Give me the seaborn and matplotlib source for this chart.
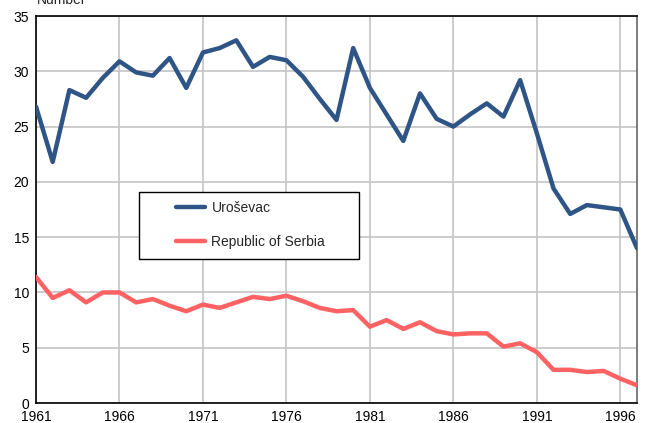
import pandas as pd
import matplotlib
matplotlib.use('Agg')
import matplotlib.pyplot as plt
from matplotlib.patches import Rectangle
import seaborn as sns

years = list(range(1961, 1998))

urosevac = [26.8, 21.8, 28.3, 27.6, 29.4, 30.9, 29.9, 29.6, 31.2, 28.5,
            31.7, 32.1, 32.8, 30.4, 31.3, 31.0, 29.5, 27.5, 25.6, 32.1,
            28.5, 26.1, 23.7, 28.0, 25.7, 25.0, 26.1, 27.1, 25.9, 29.2,
            24.4, 19.4, 17.1, 17.9, 17.7, 17.5, 14.0]

serbia = [11.4, 9.5, 10.2, 9.1, 10.0, 10.0, 9.1, 9.4, 8.8, 8.3,
          8.9, 8.6, 9.1, 9.6, 9.4, 9.7, 9.2, 8.6, 8.3, 8.4,
          6.9, 7.5, 6.7, 7.3, 6.5, 6.2, 6.3, 6.3, 5.1, 5.4,
          4.6, 3.0, 3.0, 2.8, 2.9, 2.2, 1.6]

series_names = ['Uroševac', 'Republic of Serbia']
colors = ['#2F5587', '#FF6262']
tick_years = [1961, 1966, 1971, 1976, 1981, 1986, 1991, 1996]
y_ticks = [0, 5, 10, 15, 20, 25, 30, 35]

df = pd.DataFrame({
    'Year': years * 2,
    'Value': urosevac + serbia,
    'Series': [series_names[0]] * len(years) + [series_names[1]] * len(years),
})

sns.set_style('white')
plt.rcParams['font.family'] = ['Liberation Sans', 'DejaVu Sans']

fig = plt.figure(figsize=(6.48, 4.23), dpi=100)
ax = fig.add_axes([36 / 648, 20 / 423, 601 / 648, 387 / 423])

sns.lineplot(data=df, x='Year', y='Value', hue='Series', palette=colors,
             linewidth=3.2, ax=ax, zorder=3)

ax.set_xlim(1961, 1997)
ax.set_ylim(0, 35)
ax.set_xticks(tick_years)
ax.set_yticks(y_ticks)
ax.grid(True, color='#C4C4C4', linewidth=1.2)
ax.set_axisbelow(True)
ax.set_xlabel('')
ax.set_ylabel('')
ax.tick_params(axis='both', length=0, labelsize=10, colors='black', pad=5)

for side in ['left', 'bottom', 'top']:
    ax.spines[side].set_color('black')
    ax.spines[side].set_linewidth(1.2)
ax.spines['right'].set_color('#666666')
ax.spines['right'].set_linewidth(1.2)

# legend box drawn separately so the entries can sit indented inside it
box = Rectangle((0.1714, 0.372), 0.366, 0.173, transform=ax.transAxes,
                facecolor='white', edgecolor='black', linewidth=1.0, zorder=4)
ax.add_patch(box)

leg = ax.legend(loc='center left', bbox_to_anchor=(0.233, 0.46),
                frameon=False, fontsize=10, handlelength=2.1,
                labelspacing=1.45, borderpad=0, handletextpad=0.45,
                borderaxespad=0)
leg.set_zorder(5)
for line in leg.get_lines():
    line.set_linewidth(3.2)

fig.text(37 / 648, 1 - 4 / 423, 'Number', fontsize=10, va='baseline', ha='left')

plt.savefig('out.png', dpi=100)
